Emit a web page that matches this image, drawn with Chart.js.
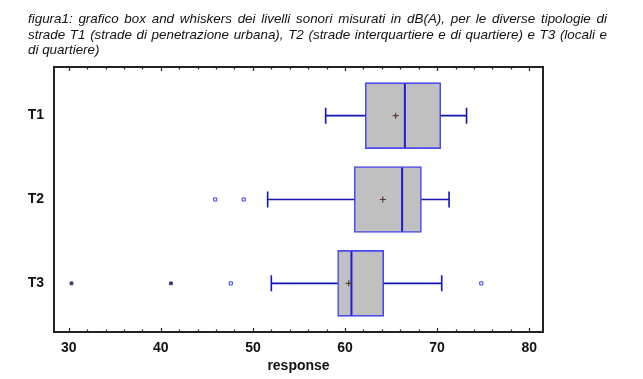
<!DOCTYPE html>
<html lang="it">
<head>
<meta charset="UTF-8">
<title>Box and whiskers</title>
<script src="https://cdn.jsdelivr.net/npm/chart.js"></script>
<style>
    body { margin: 0; background: #fff; }
    #wrap { position: relative; width: 643px; height: 379px; }
    #caption {
        position: absolute;
        left: 28px;
        top: 11px;
        width: 579px;
        font-family: Arial, "Liberation Sans", sans-serif;
        font-style: italic;
        font-size: 13.4px;
        line-height: 15.5px;
        text-align: justify;
        color: #111;
        z-index: 2;
    }
    canvas { position: absolute; left: 0; top: 0; }
</style>
</head>
<body>
<div id="wrap">
    <div id="caption">figura1: grafico box and whiskers dei livelli sonori misurati in dB(A), per le diverse tipologie di strade T1 (strade di penetrazione urbana), T2 (strade interquartiere e di quartiere) e T3 (locali e di quartiere)</div>
    <canvas id="chart" width="643" height="379"></canvas>
</div>
<script>
// values (dB(A))
const categories = ['T1', 'T2', 'T3'];
const whiskerLow = [57.9, 51.6, 52.0];
const q1 = [62.2, 61.0, 59.2];
const median = [66.5, 66.2, 60.7];
const q3 = [70.4, 68.3, 64.2];
const whiskerHigh = [73.2, 71.3, 70.5];
const means = [65.5, 64.1, 60.4];
const outlierCat = [2, 2, 3, 3];
const outlierVal = [45.9, 49.0, 47.6, 74.8];
const farCat = [3, 3];
const farVal = [30.3, 41.1];
const xTicks = [30, 40, 50, 60, 70, 80];

Chart.defaults.font.family = 'Arial, "Liberation Sans", sans-serif';

const boxColor = '#4a4aee';
const lineColor = '#1414b4';

const whiskerPlugin = {
    id: 'whiskers',
    afterDatasetDraw(chart, args) {
        if (args.index !== 0) return;
        const ctx = chart.ctx;
        const x = chart.scales.x, y = chart.scales.y;
        ctx.save();
        categories.forEach((c, i) => {
            const yc = y.getPixelForValue(i + 1);
            const half = 32;
            ctx.strokeStyle = lineColor;
            ctx.lineWidth = 1.6;
            ctx.beginPath();
            ctx.moveTo(x.getPixelForValue(whiskerLow[i]), yc);
            ctx.lineTo(x.getPixelForValue(q1[i]), yc);
            ctx.moveTo(x.getPixelForValue(q3[i]), yc);
            ctx.lineTo(x.getPixelForValue(whiskerHigh[i]), yc);
            ctx.moveTo(x.getPixelForValue(whiskerLow[i]), yc - 8);
            ctx.lineTo(x.getPixelForValue(whiskerLow[i]), yc + 8);
            ctx.moveTo(x.getPixelForValue(whiskerHigh[i]), yc - 8);
            ctx.lineTo(x.getPixelForValue(whiskerHigh[i]), yc + 8);
            ctx.stroke();
            ctx.strokeStyle = '#1c1cd8';
            ctx.lineWidth = 2;
            ctx.beginPath();
            ctx.moveTo(x.getPixelForValue(median[i]), yc - half);
            ctx.lineTo(x.getPixelForValue(median[i]), yc + half);
            ctx.stroke();
        });
        ctx.restore();
    },
    afterDraw(chart) {
        const ctx = chart.ctx;
        const a = chart.chartArea;
        const x = chart.scales.x;
        ctx.save();
        ctx.strokeStyle = '#222';
        ctx.lineWidth = 1.2;
        for (let v = 30; v <= 80; v += 2) {
            const px = Math.round(x.getPixelForValue(v)) + 0.5;
            const len = v % 10 === 0 ? 4 : 2.5;
            ctx.beginPath();
            ctx.moveTo(px, a.bottom);
            ctx.lineTo(px, a.bottom - len);
            ctx.moveTo(px, a.top);
            ctx.lineTo(px, a.top + len);
            ctx.stroke();
        }
        ctx.lineWidth = 2;
        ctx.strokeRect(a.left, a.top, a.right - a.left, a.bottom - a.top);
        ctx.restore();
    }
};

new Chart(document.getElementById('chart'), {
    type: 'bar',
    data: {
        datasets: [{
            type: 'bar',
            indexAxis: 'y',
            data: categories.map((c, i) => ({ x: [q1[i], q3[i]], y: i + 1 })),
            backgroundColor: '#c0c0c0',
            borderColor: boxColor,
            borderWidth: 1.6,
            borderSkipped: false,
            barThickness: 66,
            order: 2
        }, {
            type: 'scatter',
            data: means.map((m, i) => ({ x: m, y: i + 1 })),
            pointStyle: 'cross',
            pointRadius: 3,
            borderColor: '#5a3a30',
            borderWidth: 1.2,
            order: 1
        }, {
            type: 'scatter',
            data: outlierVal.map((v, i) => ({ x: v, y: outlierCat[i] })),
            pointStyle: 'rect',
            pointRadius: 2.2,
            borderColor: '#3a3aee',
            backgroundColor: '#ffffff',
            borderWidth: 1,
            order: 1
        }, {
            type: 'scatter',
            data: farVal.map((v, i) => ({ x: v, y: farCat[i] })),
            pointStyle: 'rect',
            pointRadius: 2,
            borderColor: '#463a78',
            backgroundColor: '#463a78',
            borderWidth: 1,
            order: 1
        }]
    },
    options: {
        responsive: false,
        animation: false,
        layout: { padding: { left: 0, right: 100, top: 67, bottom: 0 } },
        plugins: { legend: { display: false }, tooltip: { enabled: false } },
        scales: {
            x: {
                type: 'linear',
                position: 'bottom',
                offset: false,
                min: 28.4,
                max: 81.5,
                afterBuildTicks: s => { s.ticks = xTicks.map(v => ({ value: v })); },
                afterFit: s => { s.height = 47; },
                grid: { display: false, drawTicks: false },
                border: { display: false },
                ticks: { color: '#111', font: { size: 14, weight: 'bold' }, padding: 8 },
                title: {
                    display: true,
                    text: 'response',
                    color: '#111',
                    font: { size: 14, weight: 'bold' },
                    padding: { top: 0, bottom: 4 }
                }
            },
            y: {
                type: 'linear',
                reverse: true,
                offset: false,
                min: 0.42,
                max: 3.58,
                afterBuildTicks: s => { s.ticks = categories.map((c, i) => ({ value: i + 1 })); },
                afterFit: s => { s.width = 54; },
                grid: { display: false, drawTicks: false },
                border: { display: false },
                ticks: {
                    color: '#111',
                    font: { size: 14, weight: 'bold' },
                    padding: 10,
                    callback: v => categories[v - 1]
                }
            }
        }
    },
    plugins: [whiskerPlugin]
});
</script>
</body>
</html>
